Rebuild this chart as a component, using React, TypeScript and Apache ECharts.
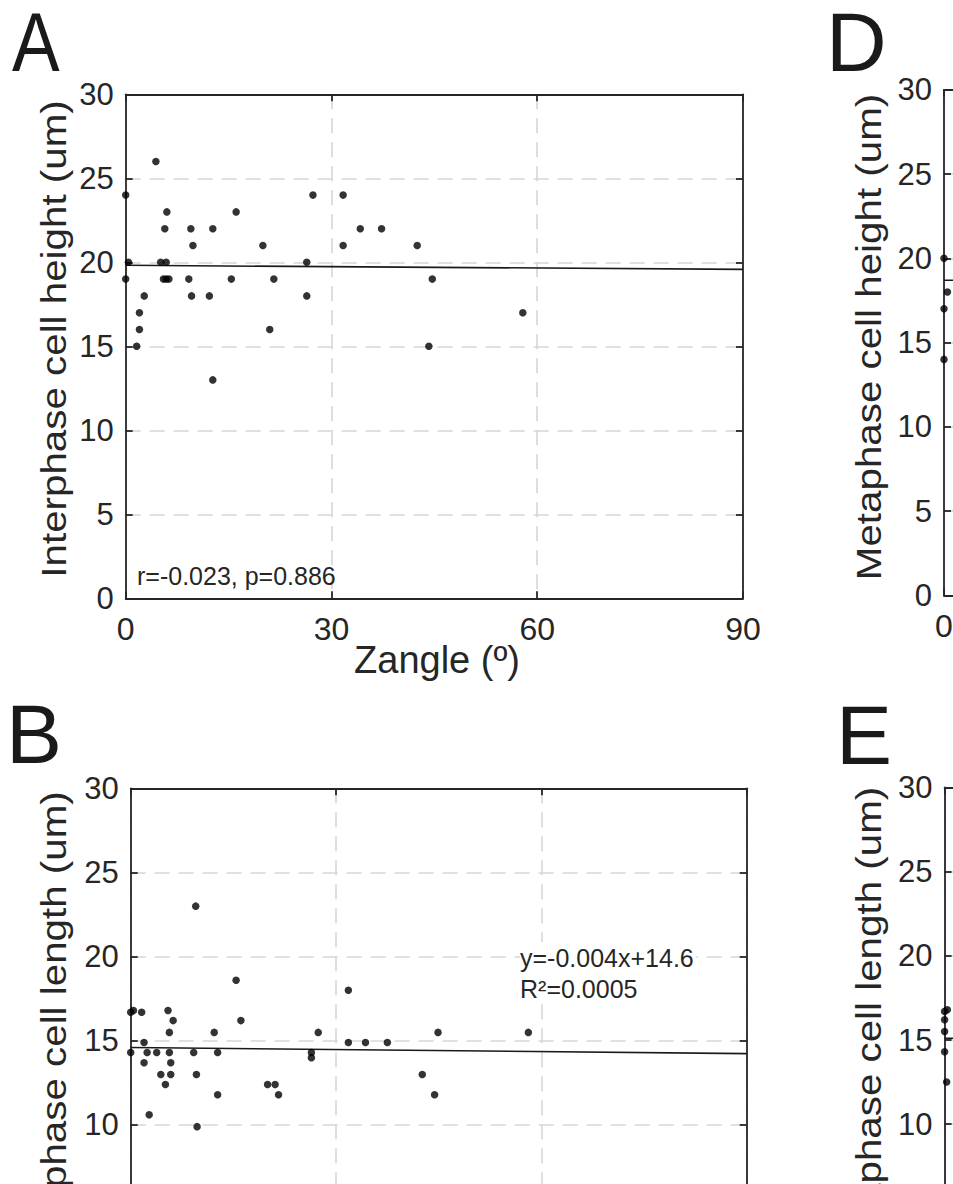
import React, { useEffect, useRef } from "react";
import * as echarts from "echarts";

// A: interphase cell height vs Zangle
const interphaseHeightAngle = [
  0, 0.4, 0, 1.6, 2.0, 2.0, 2.7, 4.4, 5.1, 5.9,
  5.5, 5.9, 6.3, 6.0, 5.7, 9.2, 9.5, 9.6, 9.8, 12.2,
  12.7, 12.7, 15.4, 16.1, 20.0, 21.0, 21.6, 26.4, 26.4, 27.3,
  31.7, 31.7, 34.2, 37.3, 42.5, 44.2, 44.7, 57.9,
];
const interphaseHeight = [
  24, 20, 19, 15, 17, 16, 18, 26, 20, 20,
  19, 19, 19, 23, 22, 19, 22, 18, 21, 18,
  22, 13, 19, 23, 21, 16, 19, 20, 18, 24,
  24, 21, 22, 22, 21, 15, 19, 17,
];

// B: interphase cell length vs Zangle
const interphaseLengthAngle = [
  0, 0.4, 1.6, 5.45, 6.2, 16.1, 5.65, 12.2, 27.4, 44.9,
  1.95, 31.8, 34.3, 37.5, 0, 2.4, 3.8, 5.65, 9.2, 12.7,
  26.4, 26.4, 1.95, 5.85, 4.4, 5.85, 9.6, 42.6, 5.07, 20.0,
  21.1, 12.7, 21.6, 44.4, 2.7, 9.7, 9.5, 15.4, 31.8, 58.1,
];
const interphaseLength = [
  16.7, 16.8, 16.7, 16.8, 16.2, 16.2, 15.5, 15.5, 15.5, 15.5,
  14.9, 14.9, 14.9, 14.9, 14.3, 14.3, 14.3, 14.3, 14.3, 14.3,
  14.3, 14.0, 13.7, 13.7, 13.0, 13.0, 13.0, 13.0, 12.4, 12.4,
  12.4, 11.8, 11.8, 11.8, 10.6, 9.9, 23.0, 18.6, 18.0, 15.5,
];

// D: metaphase cell height vs Zangle
const metaphaseHeightAngle = [0, 0.5, 0, 0];
const metaphaseHeight = [20, 18, 17, 14];

// E: metaphase cell length vs Zangle
const metaphaseLengthAngle = [0, 0.4, 0, 0, 0, 0.3];
const metaphaseLength = [16.7, 16.8, 16.2, 15.5, 14.3, 12.5];

// Linear fits, evaluated at both ends of the Zangle range
const fitRange = [0, 90];
const interphaseHeightFit = [19.82, 19.58];
const lengthSlope = -0.004;
const lengthIntercept = 14.6;
const interphaseLengthFit = fitRange.map((x) => lengthIntercept + lengthSlope * x);
const metaphaseHeightFit = [18.7, 18.7];
const metaphaseLengthFit = [15.1, 15.1];

// Axis ranges
const angleAxis = { min: 0, max: 90, step: 30 };
const cellAxis = { min: 0, max: 30, step: 5 };

const FONT = '"Liberation Sans", Arial, Helvetica, sans-serif';
const INK = "#262626";

type Panel = {
  letter: string;
  letterScale: number;
  yName: string;
  xs: number[];
  ys: number[];
  fit: number[];
  box: { left: number; top: number; width: number; height: number };
  letterAt: [number, number];
  nameAt: [number, number];
};

const panels: Panel[] = [
  {
    letter: "A",
    letterScale: 0.85,
    yName: "Interphase cell height (um)",
    xs: interphaseHeightAngle,
    ys: interphaseHeight,
    fit: interphaseHeightFit,
    box: { left: 125.7, top: 94.3, width: 617.3, height: 504 },
    letterAt: [12, 42],
    nameAt: [53, 339],
  },
  {
    letter: "B",
    letterScale: 1,
    yName: "Interphase cell length (um)",
    xs: interphaseLengthAngle,
    ys: interphaseLength,
    fit: interphaseLengthFit,
    box: { left: 130.7, top: 788.3, width: 616, height: 505 },
    letterAt: [6, 734],
    nameAt: [53, 1030],
  },
  {
    letter: "D",
    letterScale: 1,
    yName: "Metaphase cell height (um)",
    xs: metaphaseHeightAngle,
    ys: metaphaseHeight,
    fit: metaphaseHeightFit,
    box: { left: 944, top: 89.8, width: 617, height: 505.5 },
    letterAt: [826, 42],
    nameAt: [868, 337],
  },
  {
    letter: "E",
    letterScale: 1,
    yName: "Metaphase cell length (um)",
    xs: metaphaseLengthAngle,
    ys: metaphaseLength,
    fit: metaphaseLengthFit,
    box: { left: 944.6, top: 787.5, width: 616, height: 505 },
    letterAt: [836, 735],
    nameAt: [868, 1030],
  },
];

function buildOption() {
  const axisLine = { show: true, onZero: false, lineStyle: { color: INK, width: 1.8 } };
  const axisTick = { show: true, inside: true, length: 7, lineStyle: { color: INK, width: 1.8 } };
  const splitLine = { show: true, lineStyle: { color: "#d6d6d6", width: 1.6, type: [15, 9] } };

  const grid: any[] = [];
  const xAxis: any[] = [];
  const yAxis: any[] = [];
  const series: any[] = [];
  const graphic: any[] = [];

  panels.forEach((p, i) => {
    grid.push({ ...p.box, containLabel: false, outerBoundsMode: "none" });
    const xRange = { type: "value", min: angleAxis.min, max: angleAxis.max, interval: angleAxis.step };
    const yRange = { type: "value", min: cellAxis.min, max: cellAxis.max, interval: cellAxis.step };
    xAxis.push({
      gridIndex: i, position: "bottom", ...xRange, axisLine, axisTick,
      axisLabel: { fontSize: 32, color: INK, fontFamily: FONT, margin: 15 },
      splitLine,
    });
    xAxis.push({
      gridIndex: i, position: "top", ...xRange, axisLine, axisTick,
      axisLabel: { show: false }, splitLine: { show: false },
    });
    yAxis.push({
      gridIndex: i, position: "left", ...yRange, axisLine, axisTick,
      axisLabel: { fontSize: 31, color: INK, fontFamily: FONT, margin: 12 },
      splitLine,
    });
    yAxis.push({
      gridIndex: i, position: "right", ...yRange, axisLine, axisTick,
      axisLabel: { show: false }, splitLine: { show: false },
    });
    series.push({
      type: "line",
      xAxisIndex: 2 * i,
      yAxisIndex: 2 * i,
      data: fitRange.map((x, k) => [x, p.fit[k]]),
      showSymbol: false,
      symbol: "none",
      lineStyle: { color: "#1a1a1a", width: 1.6 },
      z: 4,
    });
    series.push({
      type: "scatter",
      xAxisIndex: 2 * i,
      yAxisIndex: 2 * i,
      data: p.xs.map((x, k) => [x, p.ys[k]]),
      symbol: "circle",
      symbolSize: 7.5,
      itemStyle: { color: "#000000" },
      clip: false,
      z: 5,
    });
    graphic.push({
      type: "text",
      x: p.letterAt[0],
      y: p.letterAt[1],
      scaleX: p.letterScale,
      style: { text: p.letter, font: `84px ${FONT}`, fill: "#1a1a1a", textAlign: "left", textVerticalAlign: "middle" },
    });
    graphic.push({
      type: "text",
      x: p.nameAt[0],
      y: p.nameAt[1],
      rotation: Math.PI / 2,
      scaleX: 1.12,
      style: { text: p.yName, font: `36px ${FONT}`, fill: INK, textAlign: "center", textVerticalAlign: "middle" },
    });
  });

  graphic.push(
    {
      type: "text", x: 437, y: 660,
      style: { text: "Zangle (º)", font: `38px ${FONT}`, fill: INK, textAlign: "center", textVerticalAlign: "middle" },
    },
    {
      type: "text", x: 137, y: 576, z: 10,
      style: { text: "r=-0.023, p=0.886", font: `25px ${FONT}`, fill: INK, textAlign: "left", textVerticalAlign: "middle" },
    },
    {
      type: "text", x: 520, y: 973, z: 10,
      style: {
        text: "y=-0.004x+14.6\nR²=0.0005",
        font: `25px ${FONT}`,
        lineHeight: 31,
        fill: INK,
        textAlign: "left",
        textVerticalAlign: "middle",
        backgroundColor: "#ffffff",
        padding: [0, 2, 0, 0],
      },
    }
  );

  return {
    animation: false,
    backgroundColor: "#ffffff",
    grid,
    xAxis,
    yAxis,
    series,
    graphic,
  };
}

export default function App() {
  const ref = useRef<HTMLDivElement>(null);
  useEffect(() => {
    if (!ref.current) return;
    const chart = echarts.init(ref.current, undefined, { renderer: "svg" });
    chart.setOption(buildOption() as any);
    return () => chart.dispose();
  }, []);
  return (
    <div
      ref={ref}
      style={{ position: "absolute", left: 0, top: 0, width: 953, height: 1184, overflow: "hidden", background: "#fff" }}
    />
  );
}
